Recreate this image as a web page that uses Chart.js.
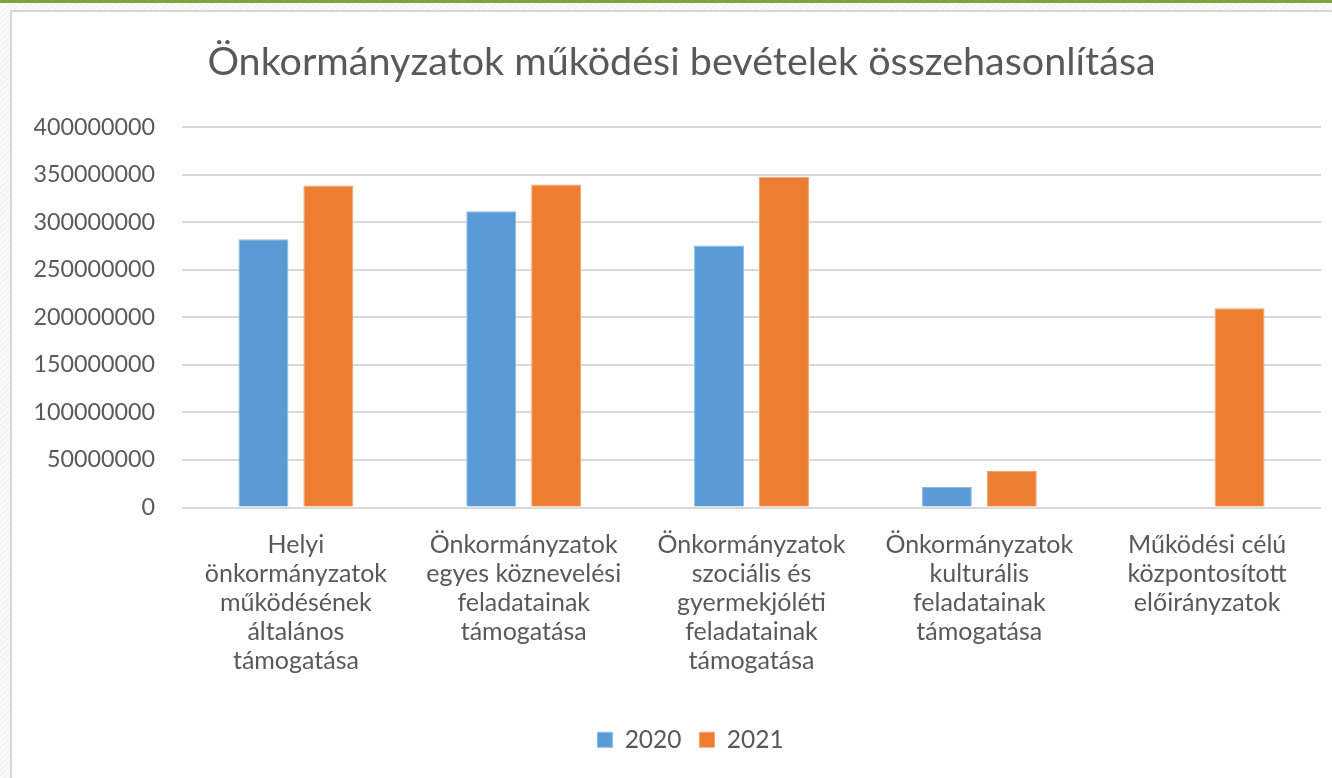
<!DOCTYPE html>
<html lang="hu">
<head>
<meta charset="utf-8">
<title>Önkormányzatok működési bevételek összehasonlítása</title>
<script src="https://cdn.jsdelivr.net/npm/chart.js@4"></script>
<style>
    html, body {
        margin: 0;
        padding: 0;
        width: 1332px;
        height: 778px;
        overflow: hidden;
    }
    body {
        position: relative;
        background: repeating-linear-gradient(135deg, #f4f4f4 0px, #f4f4f4 2px, #fbfbfb 2px, #fbfbfb 4px);
    }
    .topline {
        position: absolute;
        left: 0;
        top: 0;
        width: 1332px;
        height: 3px;
        background: #7fa334;
    }
    .panel {
        position: absolute;
        left: 10px;
        top: 10px;
        width: 1340px;
        height: 800px;
        background: #ffffff;
        border: 2px solid #d6d6d6;
    }
    #chartWrap {
        position: absolute;
        left: 0;
        top: 0;
        width: 1332px;
        height: 778px;
    }
</style>
</head>
<body>
<div class="topline"></div>
<div class="panel"></div>
<div id="chartWrap"><canvas id="revenueChart"></canvas></div>

<script>
// Chart data
const categories = [
    ['Helyi', 'önkormányzatok', 'működésének', 'általános', 'támogatása'],
    ['Önkormányzatok', 'egyes köznevelési', 'feladatainak', 'támogatása'],
    ['Önkormányzatok', 'szociális és', 'gyermekjóléti', 'feladatainak', 'támogatása'],
    ['Önkormányzatok', 'kulturális', 'feladatainak', 'támogatása'],
    ['Működési célú', 'központosított', 'előirányzatok']
];
const values2020 = [282000000, 311500000, 275500000, 21500000, 0];
const values2021 = [338500000, 339500000, 347500000, 38500000, 209500000];
const seriesNames = ['2020', '2021'];
const yTicks = [0, 50000000, 100000000, 150000000, 200000000, 250000000, 300000000, 350000000, 400000000];

const textColor = '#595959';
const gridColor = '#d9d9d9';
const fontFamily = 'Lato, "Open Sans", sans-serif';

// title and legend sit a bit right of the canvas centre in the original
const shiftBlocks = {
    id: 'shiftBlocks',
    afterLayout(chart) {
        if (chart.titleBlock) {
            chart.titleBlock.left += 21;
            chart.titleBlock.right += 21;
        }
        if (chart.legend) {
            chart.legend.left += 30;
            chart.legend.right += 30;
        }
    }
};

document.addEventListener('DOMContentLoaded', function() {
    const ctx = document.getElementById('revenueChart');

    new Chart(ctx, {
        type: 'bar',
        data: {
            labels: categories,
            datasets: [{
                label: seriesNames[0],
                data: values2020,
                backgroundColor: '#5b9bd5',
                borderColor: '#8dbbe6',
                borderWidth: 1,
                categoryPercentage: 0.57,
                barPercentage: 0.77
            }, {
                label: seriesNames[1],
                data: values2021,
                backgroundColor: '#ed7d31',
                borderColor: '#f3a36e',
                borderWidth: 1,
                categoryPercentage: 0.57,
                barPercentage: 0.77
            }]
        },
        options: {
            responsive: true,
            maintainAspectRatio: false,
            animation: false,
            layout: {
                padding: { left: 0, right: 11, top: 0, bottom: 16 }
            },
            plugins: {
                title: {
                    display: true,
                    text: 'Önkormányzatok működési bevételek összehasonlítása',
                    color: textColor,
                    font: { family: fontFamily, size: 39.5, weight: 'normal' },
                    padding: { top: 39, bottom: 40.6 }
                },
                legend: {
                    position: 'bottom',
                    labels: {
                        color: textColor,
                        boxWidth: 15,
                        boxHeight: 15,
                        padding: 18,
                        font: { family: fontFamily, size: 24.5 }
                    }
                },
                tooltip: { enabled: false }
            },
            scales: {
                x: {
                    grid: { display: false, drawTicks: false },
                    border: { display: false },
                    ticks: {
                        color: textColor,
                        padding: 23,
                        maxRotation: 0,
                        autoSkip: false,
                        font: { family: fontFamily, size: 25, lineHeight: 29 / 25 }
                    },
                    afterFit: function(scale) {
                        scale.height = 202;
                    }
                },
                y: {
                    min: yTicks[0],
                    max: yTicks[yTicks.length - 1],
                    grid: { color: gridColor, lineWidth: 2, drawTicks: false },
                    border: { display: false },
                    afterBuildTicks: function(scale) {
                        scale.ticks = yTicks.map(v => ({ value: v }));
                    },
                    ticks: {
                        color: textColor,
                        padding: 27,
                        font: { family: fontFamily, size: 23.3 },
                        callback: function(value) {
                            return String(value);
                        }
                    },
                    afterFit: function(scale) {
                        scale.width = 182;
                    }
                }
            }
        },
        plugins: [shiftBlocks]
    });
});
</script>
</body>
</html>
